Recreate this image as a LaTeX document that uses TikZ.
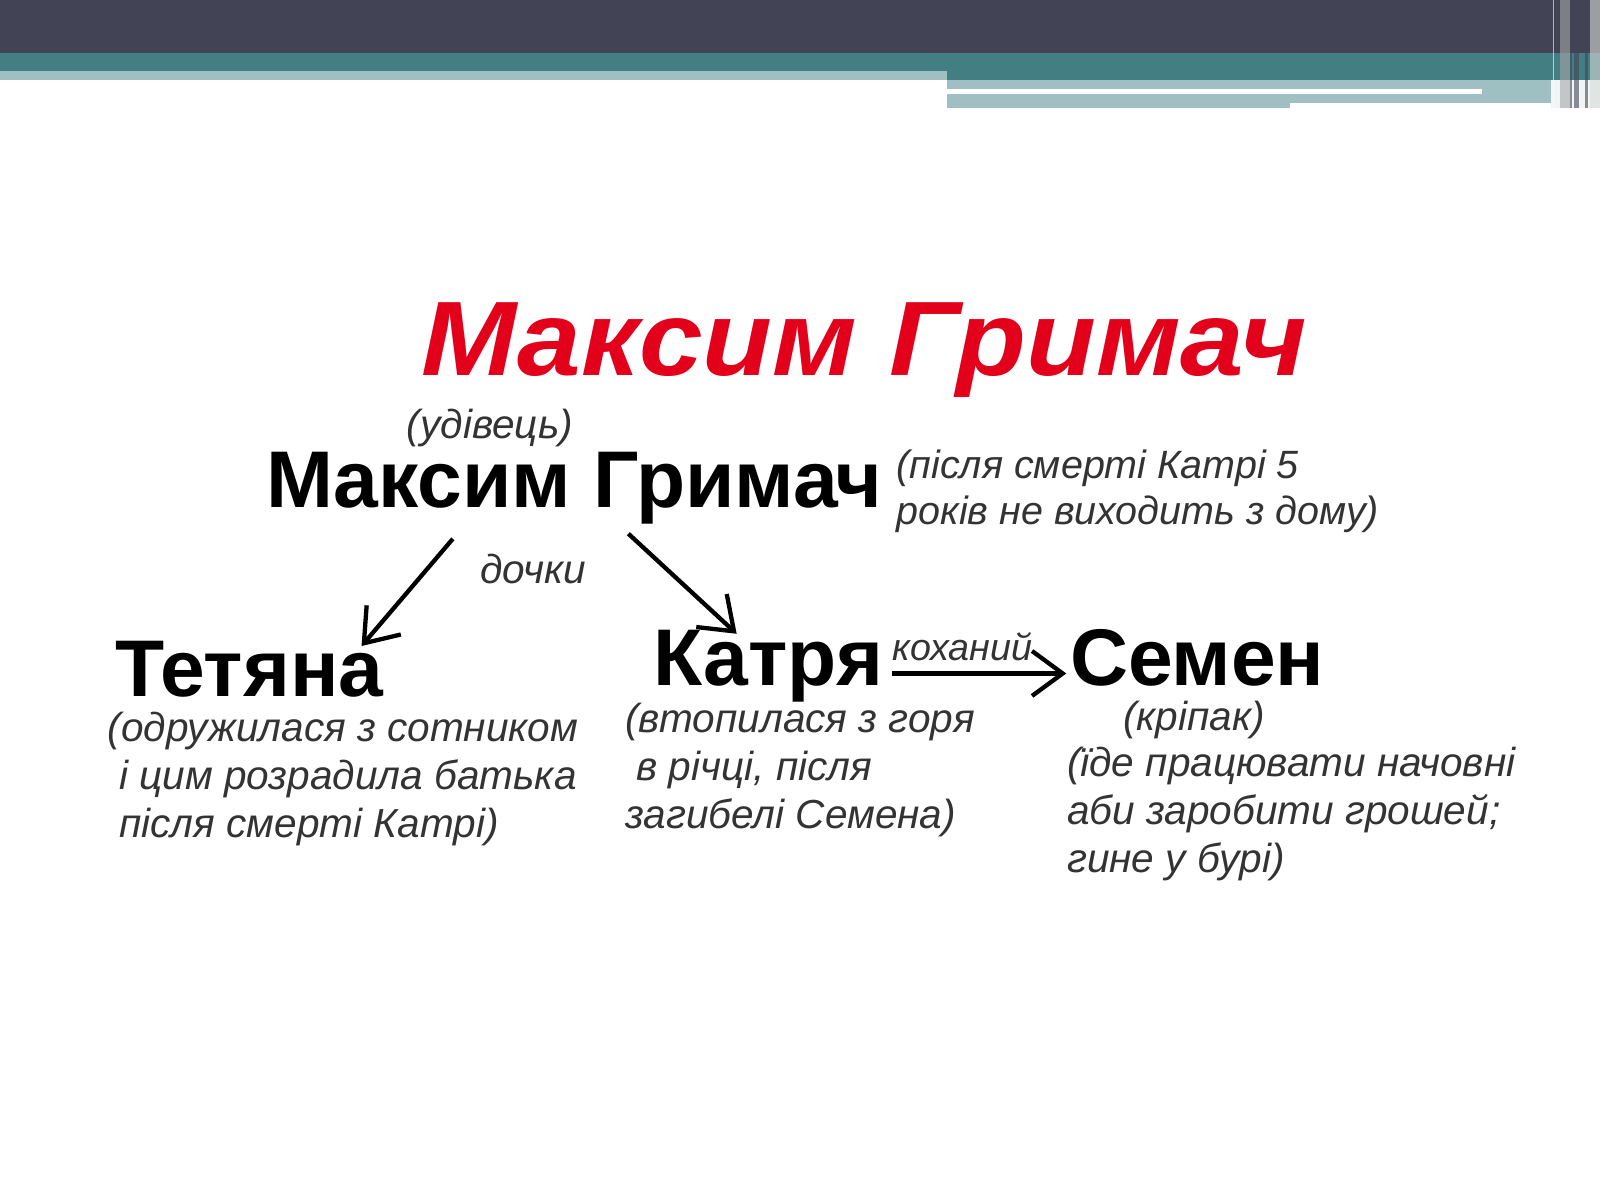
\documentclass[tikz,border=0pt]{standalone}
\usepackage{fontspec}
\setmainfont{Liberation Sans}
\newfontfamily\headfont{Liberation Sans}[FakeStretch=1.08]
\usetikzlibrary{positioning,arrows.meta,calc}
\definecolor{banddark}{RGB}{67,67,86}
\definecolor{bandteal}{RGB}{67,126,130}
\definecolor{bandlight}{RGB}{160,191,194}
\definecolor{titlered}{RGB}{226,0,26}
\definecolor{notegray}{RGB}{51,51,51}
\tikzset{
>={Straight Barb[length=3mm,width=4.4mm,line width=1.2pt]},
  heading/.style={
    font=\headfont\fontsize{29.5}{34}\selectfont\bfseries\itshape,
    text=titlered,
    inner sep=0pt},
  person/.style={
    font=\fontsize{22.4}{26}\selectfont\bfseries,
    inner sep=0pt},
  note/.style={
    font=\fontsize{11.3}{13.4}\selectfont\itshape,
    text=notegray,
    align=left,
    inner sep=0pt},
  link/.style={draw, line width=1.2pt, ->},
}
\begin{document}
\begin{tikzpicture}[x=0.01cm, y=-0.01cm]
  \useasboundingbox (0,0) rectangle (1568,1176);
  % slide banner
  \fill[banddark] (0,0) rectangle (1568,52);
  \fill[bandteal] (0,52) rectangle (928,70);
  \fill[bandteal] (928,52) rectangle (1568,78);
  \fill[bandlight] (0,70) rectangle (928,78);
  \fill[bandlight] (928,78) rectangle (1520,87);
  \fill[bandlight] (1452,87) rectangle (1520,92);
  \fill[bandlight] (928,92) rectangle (1264,106);
  \fill[bandlight] (1264,92) rectangle (1520,101);
  \fill[white!85!bandlight] (1520,78) rectangle (1568,106);
  \foreach \a/\b/\c in {1522/1523/white, 1529/1539/gray!70,
      1539/1541/banddark, 1543/1547/banddark, 1553/1556/banddark,
      1558/1568/white!70!gray} {
    \fill[\c, opacity=.6] (\a,0) rectangle (\b,106);
  }
  % title
  \node[heading, anchor=base west] (title) at (412,368) {Максим Гримач};
  % father
  \node[person, anchor=base west] (maksym) at (260,497) {Максим Гримач};
  \node[note, anchor=base west] (widower) at (398,430) {(удівець)};
  \node[note, anchor=north west, font=\fontsize{11}{12.8}\selectfont\itshape]
    (grief) at (878,440) {(після смерті Катрі 5\\років не виходить з дому)};
  \node[note, anchor=base west] (daughters) at (470,572) {дочки};
  % daughters
  \node[person, anchor=base west] (tetiana) at (112,683) {Тетяна};
  \node[person, anchor=base west] (katria) at (640,672) {Катря};
  \node[person, anchor=base west] (semen) at (1048,672) {Семен};
  \node[note, anchor=north west] (tnote) at (105,697)
    {(одружилася з сотником\\ \ і цим розрадила батька\\ \ після смерті Катрі)};
  \node[note, anchor=north west] (knote) at (612,688)
    {(втопилася з горя\\ \ в річці, після\\загибелі Семена)};
  \node[note, anchor=base west] (serf) at (1100,716) {(кріпак)};
  \node[note, anchor=north west] (snote) at (1045,731)
    {(їде працювати начовні\\аби заробити грошей;\\гине у бурі)};
  % connectors
  \draw[link] ([shift={(-119,14)}]maksym.south) -- ([shift={(-22,5)}]tetiana.north east);
  \draw[link] ([shift={(53,9)}]maksym.south) -- ([shift={(-31,4)}]katria.north);
  \draw[link] ([shift={(8,-12)}]katria.base east) -- ([shift={(-3,-12)}]semen.base west);
  \node[anchor=base west, inner sep=0pt, font=\fontsize{10.5}{12}\selectfont\itshape,
    text=notegray] (lover) at ([shift={(8,-25)}]katria.base east) {коханий};
\end{tikzpicture}
\end{document}
